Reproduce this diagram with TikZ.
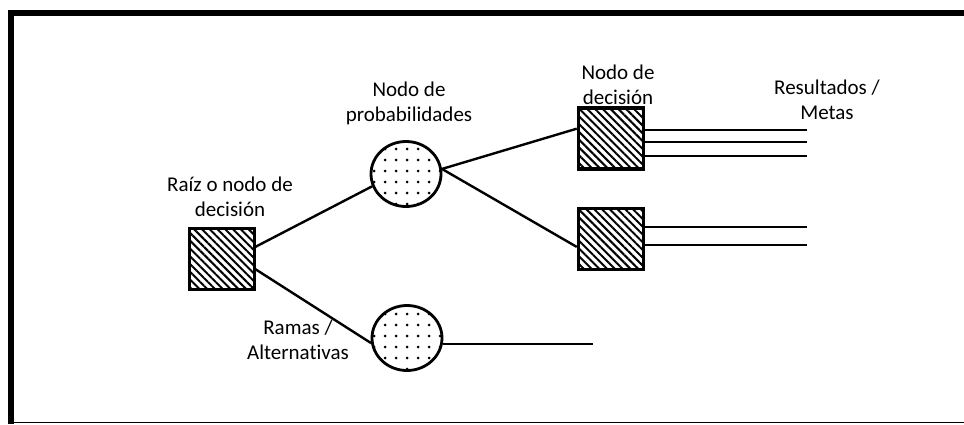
\documentclass[tikz,border=0pt]{standalone}
\usepackage{fontspec}
\setmainfont{Carlito}[Ligatures=NoCommon]
\usetikzlibrary{positioning,shapes,patterns.meta}

\begin{document}
\begin{tikzpicture}[
  x=1pt,y=-1pt,
  every node/.style={align=center},
  lbl/.style={font=\fontsize{21}{25}\selectfont,inner sep=0pt},
  decision/.style={draw,line width=3.5pt,rectangle,inner sep=0pt,
    minimum width=65pt,minimum height=61pt,
    pattern={Lines[angle=-45,distance=5.5pt,line width=2pt]}},
  chance/.style={draw,line width=2.8pt,ellipse,inner sep=0pt,
    minimum width=70pt,minimum height=65pt,
    pattern={Dots[distance=11pt,radius=1.5pt]}},
  branch/.style={line width=2.4pt}]

  \useasboundingbox (0,0) rectangle (964,424);

  % Marco
  \draw[line width=6pt,line join=miter] (11,424) -- (11,13) -- (964,13);
  \draw[line width=1pt] (11,422.5) -- (964,422.5);

  % Nodos
  \node[decision] (root) at (222,259) {};
  \node[chance] (p1) at (406,174) {};
  \node[chance] (p2) at (407,338) {};
  \node[decision] (d1) at (611,138.5) {};
  \node[decision] (d2) at (611,239) {};
  \coordinate (fin) at (593,344);

  % Etiquetas
  \node[lbl] (lroot) at (230,197) {Raíz o nodo de\\decisión};
  \node[lbl] (lprob) at (409,103) {Nodo de\\probabilidades};
  \node[lbl] (ldec) at (618,85) {Nodo de\\decisión};
  \node[lbl] (lres) at (827,100) {Resultados /\\Metas};
  \node[lbl] (lramas) at (298,340) {Ramas /\\Alternativas};

  % Ramas
  \draw[branch] (root.20) -- (p1.200);
  \draw[branch] (root.-17) -- (p2.188);
  \draw[branch] (p1.8) -- (d1.164);
  \draw[branch] (p1.8) -- (d2.193);
  \draw[branch] (p2.east |- fin) -- (fin);

  % Resultados
  \foreach \y [count=\i] in {130,142,156} {
    \coordinate (ra\i) at (807,\y);
    \draw[branch] (d1.east |- ra\i) -- (ra\i);
  }
  \foreach \y [count=\i] in {227,245} {
    \coordinate (rb\i) at (807,\y);
    \draw[branch] (d2.east |- rb\i) -- (rb\i);
  }

\end{tikzpicture}
\end{document}
